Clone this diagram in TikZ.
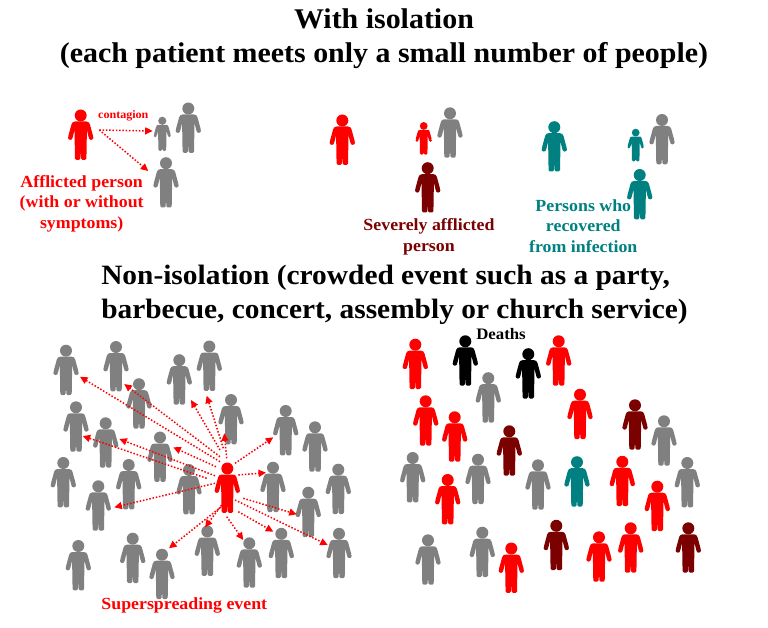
\documentclass[tikz,border=0pt]{standalone}
\usepackage{fontspec}
\setmainfont[BoldFeatures={FakeStretch=1.05}]{Liberation Serif}
\usepackage{tikz}
\usetikzlibrary{arrows.meta}

\definecolor{manred}{HTML}{FF0000}
\definecolor{mangray}{HTML}{808080}
\definecolor{mandark}{HTML}{7B0000}
\definecolor{manteal}{HTML}{008080}

\tikzset{
	person/.pic={
		\fill[#1] (0,-19) circle [radius=6];
		\fill[#1] (10.4,3.1) circle [radius=2.3] (-10.4,3.1) circle [radius=2.3];
		\fill[#1, rounded corners=1.3pt] (-7,-13) -- (7,-13) -- (8.8,-11.6) -- (12.6,2.4) -- (8.2,3.8) -- (6.2,-4.5)
			-- (5.7,25.3) -- (0.4,25.3) -- (0,14) -- (-0.4,25.3) -- (-5.7,25.3) -- (-6.2,-4.5) -- (-8.2,3.8) -- (-12.6,2.4) -- (-8.8,-11.6) -- cycle;
	},
	spread/.style={manred, line width=1.5pt, dash pattern=on 1.5pt off 1.8pt, -{Triangle[length=7.5pt, width=7pt]}},
	title/.style={font=\fontsize{28.5}{34}\selectfont\bfseries, align=center},
	caption/.style={font=\fontsize{17}{20.5}\selectfont\bfseries, align=center}
}

\begin{document}
\begin{tikzpicture}[x=1pt, y=-1pt]
	\useasboundingbox (0,0) rectangle (768,628);

	\node[title] (head1) at (384,39) {With isolation\\(each patient meets only a small number of people)};
	\node[title, font=\fontsize{28}{34}\selectfont\bfseries, align=left] (head2) at (394.5,294.5) {Non-isolation (crowded event such as a party,\\barbecue, concert, assembly or church service)};

	% first row
	\pic (a0) at (80.7,134.5) {person=manred};
	\pic[scale=.68] (a1) at (162.3,133.7) {person=mangray};
	\pic (a2) at (188.3,127.5) {person=mangray};
	\pic (a3) at (166,182.2) {person=mangray};
	\pic (b0) at (342.3,139.5) {person=manred};
	\pic[scale=.65] (b1) at (423.7,138.3) {person=manred};
	\pic (b2) at (450,132.3) {person=mangray};
	\pic (b3) at (427.7,187.2) {person=mandark};
	\pic (c0) at (554.3,146.2) {person=manteal};
	\pic[scale=.65] (c1) at (635.7,145) {person=manteal};
	\pic (c2) at (662,139) {person=mangray};
	\pic (c3) at (639.7,194) {person=manteal};

	\node[manred, font=\fontsize{11.5}{13}\selectfont\bfseries] (contagion) at (123.3,116) {contagion};
	\node[caption, manred] (afflicted) at (81.7,203.5) {Afflicted person\\(with or without\\symptoms)};
	\node[caption, mandark] (severe) at (429,237) {Severely afflicted\\person};
	\node[caption, manteal] (recovered) at (583.3,226) {Persons who\\recovered\\from infection};

	\coordinate (a) at (99.3,130);
	\coordinate (a1tip) at (152.7,131);
	\coordinate (a3tip) at (148.3,171);
	\path[spread]	(a) edge (a1tip)
					(a) edge (a3tip);

	% crowd, left
	\pic (g1) at (66,369.7) {person=mangray};
	\pic (g2) at (116,366) {person=mangray};
	\pic (g3) at (139,403.2) {person=mangray};
	\pic (g4) at (179.3,379.2) {person=mangray};
	\pic (g5) at (209.3,365.5) {person=mangray};
	\pic (g6) at (231,419) {person=mangray};
	\pic (g7) at (285.7,430) {person=mangray};
	\pic (g8) at (315,446.3) {person=mangray};
	\pic (g9) at (76,426.3) {person=mangray};
	\pic (g10) at (105.7,442.3) {person=mangray};
	\pic (g11) at (160,456.5) {person=mangray};
	\pic (g12) at (63.3,482) {person=mangray};
	\pic (g13) at (128.7,484) {person=mangray};
	\pic (g14) at (189,489) {person=mangray};
	\pic (g15) at (98.3,505.3) {person=mangray};
	\pic (g16) at (273,486.7) {person=mangray};
	\pic (g17) at (338.3,488.7) {person=mangray};
	\pic (g18) at (308.3,511.7) {person=mangray};
	\pic (g19) at (78.3,565) {person=mangray};
	\pic (g20) at (132.7,557.7) {person=mangray};
	\pic (g21) at (162,573.7) {person=mangray};
	\pic (g22) at (207.3,550.5) {person=mangray};
	\pic (g23) at (249.3,562.3) {person=mangray};
	\pic (g24) at (281.3,552.8) {person=mangray};
	\pic (g25) at (339,552.8) {person=mangray};
	\pic (g0) at (227.3,487.5) {person=manred};

	\coordinate (s1) at (220,461.7);	\coordinate (t1) at (80,376.7);
	\coordinate (s2) at (220,456.7);	\coordinate (t2) at (124.3,384);
	\coordinate (s3) at (220,450);		\coordinate (t3) at (191,400);
	\coordinate (s4) at (223.3,448.3);	\coordinate (t4) at (206.7,395.7);
	\coordinate (s5) at (226.7,458.3);	\coordinate (t5) at (224.3,433.3);
	\coordinate (s6) at (235,463.3);	\coordinate (t6) at (273.3,437.3);
	\coordinate (s7) at (238.3,475);	\coordinate (t7) at (266,472.7);
	\coordinate (s8) at (243.3,498.3);	\coordinate (t8) at (296.7,514.3);
	\coordinate (s9) at (238.3,511.7);	\coordinate (t9) at (273.3,531.7);
	\coordinate (s10) at (235,500);		\coordinate (t10) at (327.7,545);
	\coordinate (s11) at (226.7,516.7);	\coordinate (t11) at (243.3,540);
	\coordinate (s12) at (221.7,505);	\coordinate (t12) at (205,527.3);
	\coordinate (s13) at (221,507);		\coordinate (t13) at (169,548.3);
	\coordinate (s14) at (215,483.3);	\coordinate (t14) at (114.3,507.3);
	\coordinate (s15) at (206.7,478.3);	\coordinate (t15) at (82.7,436);
	\coordinate (s16) at (215,475.7);	\coordinate (t16) at (119.3,439);
	\coordinate (s17) at (216,466.7);	\coordinate (t17) at (173.3,447.3);

	\path[spread]	(s1) edge (t1)
					(s2) edge (t2)
					(s3) edge (t3)
					(s4) edge (t4)
					(s5) edge (t5)
					(s6) edge (t6)
					(s7) edge (t7)
					(s8) edge (t8)
					(s9) edge (t9)
					(s10) edge (t10)
					(s11) edge (t11)
					(s12) edge (t12)
					(s13) edge (t13)
					(s14) edge (t14)
					(s15) edge (t15)
					(s16) edge (t16)
					(s17) edge (t17);

	\node[caption, manred] (super) at (184.3,605.5) {Superspreading event};

	% crowd, right
	\pic (r1) at (415.3,363.7) {person=manred};
	\pic (r2) at (465.3,360.3) {person=black};
	\pic (r3) at (528.3,373.2) {person=black};
	\pic (r4) at (558.7,360.3) {person=manred};
	\pic (r5) at (488.3,397.2) {person=mangray};
	\pic (r6) at (580,413.7) {person=manred};
	\pic (r7) at (635,424.3) {person=mandark};
	\pic (r8) at (664,440.3) {person=mangray};
	\pic (r9) at (425.7,420.3) {person=manred};
	\pic (r10) at (454.7,436.3) {person=manred};
	\pic (r11) at (509.3,450.3) {person=mandark};
	\pic (r12) at (412.7,477) {person=mangray};
	\pic (r13) at (478,478.7) {person=mangray};
	\pic (r14) at (447.7,499) {person=manred};
	\pic (r15) at (538,484.3) {person=mangray};
	\pic (r16) at (577,481.2) {person=manteal};
	\pic (r17) at (622.3,480.8) {person=manred};
	\pic (r18) at (657.3,505.7) {person=manred};
	\pic (r19) at (687.3,482) {person=mangray};
	\pic (r20) at (556.3,544.8) {person=mandark};
	\pic (r21) at (599,556.3) {person=manred};
	\pic (r22) at (630.7,547.3) {person=manred};
	\pic (r23) at (688.3,547.3) {person=mandark};
	\pic (r24) at (428,559.3) {person=mangray};
	\pic (r25) at (482.3,551.7) {person=mangray};
	\pic (r26) at (511.3,567.5) {person=manred};

	\node[font=\fontsize{16}{18}\selectfont\bfseries] (deaths) at (501,334.3) {Deaths};
\end{tikzpicture}
\end{document}
